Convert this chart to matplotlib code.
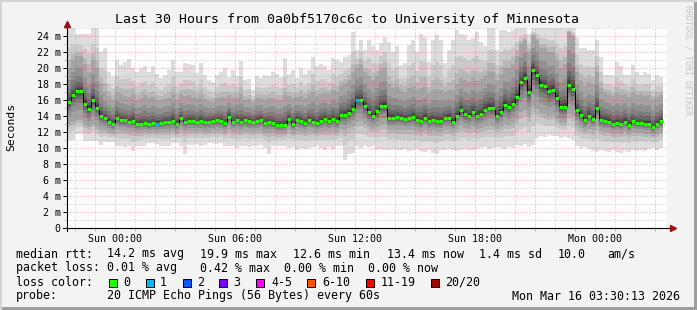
import matplotlib
matplotlib.use('Agg')
import matplotlib.pyplot as plt
import numpy as np
from matplotlib.patches import Rectangle

plt.rcParams['font.family'] = ['DejaVu Sans Mono']

W, H = 697, 310

# time axis: hours relative to Sun 00:00, one step = 12 minutes
T_START = -2.4
T_END = 27.6
STEP_H = 0.2

tick_hours = [0, 6, 12, 18, 24]
tick_labels = ['Sun 00:00', 'Sun 06:00', 'Sun 12:00', 'Sun 18:00', 'Mon 00:00']
ytick_values = [0, 2, 4, 6, 8, 10, 12, 14, 16, 18, 20, 22, 24]
ytick_labels = ['0', '2 m', '4 m', '6 m', '8 m', '10 m', '12 m', '14 m', '16 m',
                '18 m', '20 m', '22 m', '24 m']

# median rtt per step (ms)
median = [
    15.75, 16.6, 17.1, 17.1, 15.5, 14.9, 16.0, 15.0, 14.0, 13.75,
    13.3, 13.0, 13.7, 13.5, 13.5, 13.3, 13.4, 13.0, 13.05, 13.1,
    12.95, 13.1, 13.05, 13.1, 13.25, 13.2, 13.4, 13.0, 13.7, 13.25,
    13.4, 13.4, 13.3, 13.4, 13.25, 13.3, 13.4, 13.5, 13.4, 13.15,
    13.9, 13.3, 13.5, 13.25, 13.5, 13.35, 13.3, 13.4, 13.5, 13.1,
    13.25, 13.15, 12.9, 12.9, 12.9, 13.65, 13.0, 13.55, 13.35, 13.1,
    13.5, 13.3, 13.15, 13.4, 13.6, 13.4, 13.6, 13.4, 14.1, 14.1,
    14.4, 14.9, 16.0, 16.0, 15.2, 14.45, 14.0, 14.6, 15.2, 15.3,
    13.8, 13.8, 13.85, 13.8, 13.65, 13.7, 13.85, 13.55, 13.35, 13.8,
    13.4, 13.5, 13.4, 13.4, 13.75, 13.75, 13.3, 14.05, 14.7, 14.25,
    14.05, 14.5, 14.0, 14.3, 14.8, 15.05, 15.0, 14.0, 14.5, 15.4,
    15.1, 15.5, 16.4, 18.2, 18.8, 17.05, 19.8, 19.1, 17.9, 17.7,
    17.1, 17.3, 16.25, 15.1, 15.1, 17.9, 17.4, 14.75, 14.1, 13.45,
    14.0, 13.6, 15.0, 13.5, 13.4, 13.3, 13.0, 13.1, 13.0, 13.3,
    12.9, 13.35, 13.1, 13.1, 13.0, 13.05, 12.6, 13.05, 13.35,
]

# lost pings per step (out of 20)
loss = [0] * len(median)
loss[22] = 1
loss[72] = 1

# smoke: highest ping per step
smoke_hi = [
    25.0, 25.0, 24.3, 24.3, 24.3, 24.3, 25.0, 25.0, 22.0, 22.5,
    19.5, 18.9, 21.0, 20.4, 20.8, 21.1, 20.0, 19.5, 20.0, 20.2,
    19.5, 20.2, 19.25, 18.7, 19.1, 19.75, 21.0, 19.5, 19.5, 20.6,
    20.5, 20.4, 19.4, 20.6, 19.1, 18.5, 18.3, 19.1, 19.5, 20.0,
    18.9, 19.75, 19.0, 20.9, 18.5, 18.6, 17.25, 19.0, 18.7, 19.1,
    19.0, 19.5, 19.25, 18.9, 21.2, 19.3, 19.75, 18.8, 20.0, 19.3,
    19.75, 21.4, 20.2, 20.5, 20.25, 19.75, 21.2, 21.0, 20.8, 21.4,
    21.6, 24.5, 22.3, 23.5, 22.3, 23.5, 22.7, 22.3, 23.1, 23.9,
    23.3, 22.0, 22.7, 20.4, 20.6, 22.9, 23.5, 22.0, 24.3, 23.9,
    20.8, 23.5, 24.1, 23.5, 20.6, 22.3, 23.5, 24.75, 24.3, 24.1,
    23.5, 23.7, 24.5, 23.3, 22.7, 25.0, 25.0, 22.3, 24.75, 24.75,
    24.5, 24.75, 25.0, 25.0, 25.0, 24.3, 25.0, 25.0, 25.0, 25.0,
    25.0, 25.0, 25.0, 25.0, 25.0, 25.0, 25.0, 23.9, 22.5, 22.5,
    22.3, 22.3, 23.5, 21.4, 19.1, 19.1, 19.1, 20.8, 20.2, 19.1,
    19.1, 20.4, 19.5, 19.1, 19.5, 19.3, 18.5, 19.1, 18.9,
]

# smoke: lowest ping per step
smoke_lo = [
    11.0, 11.0, 11.8, 11.8, 10.9, 10.9, 10.9, 10.9, 10.4, 10.8,
    10.8, 10.8, 10.2, 10.2, 10.1, 10.3, 9.6, 10.2, 10.2, 10.3,
    10.6, 10.6, 10.5, 10.3, 10.25, 10.3, 10.6, 10.6, 10.2, 9.3,
    10.4, 10.4, 10.5, 10.3, 10.4, 10.6, 10.6, 10.5, 10.6, 10.3,
    10.2, 10.2, 10.0, 10.2, 10.3, 10.1, 10.3, 10.2, 10.4, 10.0,
    9.3, 10.2, 10.2, 10.3, 10.2, 10.0, 10.1, 9.8, 10.0, 9.9,
    10.0, 10.1, 10.2, 10.0, 9.8, 10.1, 9.9, 10.2, 10.2, 8.5,
    9.3, 9.4, 10.2, 10.0, 10.2, 10.1, 10.3, 9.8, 9.9, 9.7,
    9.8, 9.9, 9.7, 9.8, 9.9, 9.6, 9.8, 9.9, 9.6, 9.5,
    9.7, 9.4, 9.3, 9.8, 9.7, 9.9, 9.8, 9.6, 9.8, 9.9,
    9.7, 9.8, 9.9, 10.0, 10.1, 9.9, 10.0, 10.1, 10.0, 9.9,
    10.1, 10.0, 10.4, 10.3, 10.5, 10.1, 10.4, 11.3, 11.5, 11.4,
    11.6, 11.5, 11.5, 11.3, 11.4, 11.2, 11.0, 10.2, 10.0, 10.1,
    9.9, 9.6, 9.5, 9.7, 9.6, 9.5, 9.7, 9.5, 9.4, 9.6,
    9.5, 9.7, 9.6, 9.8, 9.6, 9.9, 10.0, 9.8, 10.0,
]

# smoke: 17th ping (upper edge of the mid grey)
smoke_hi3 = [
    20.0, 21.0, 21.5, 21.5, 20.5, 19.5, 21.0, 20.0, 18.0, 17.0,
    16.5, 16.0, 17.0, 16.8, 16.5, 16.4, 16.8, 16.0, 16.3, 16.6,
    16.2, 16.4, 16.0, 15.9, 16.1, 16.3, 16.8, 16.0, 16.7, 16.5,
    16.6, 16.4, 16.2, 16.6, 16.1, 15.9, 15.8, 16.2, 16.4, 16.3,
    16.6, 16.2, 16.3, 16.8, 16.0, 16.1, 15.7, 16.2, 16.3, 16.0,
    16.2, 16.3, 16.0, 16.0, 16.6, 16.5, 16.2, 16.4, 16.5, 16.2,
    16.6, 17.0, 16.5, 16.8, 16.9, 16.7, 17.2, 17.0, 17.8, 18.0,
    18.5, 19.5, 20.0, 20.5, 19.5, 19.0, 18.5, 19.0, 19.8, 20.0,
    18.0, 17.5, 17.6, 17.2, 17.0, 17.5, 17.8, 17.3, 17.5, 17.6,
    16.9, 17.3, 17.4, 17.2, 17.0, 17.3, 17.2, 18.0, 18.8, 18.5,
    18.3, 18.8, 18.4, 18.6, 19.0, 19.6, 19.5, 18.5, 19.2, 20.0,
    20.0, 20.5, 21.5, 23.0, 23.5, 22.0, 24.0, 23.5, 22.5, 22.5,
    22.0, 22.0, 21.0, 20.0, 20.5, 24.5, 24.0, 19.5, 18.5, 17.8,
    18.3, 18.0, 19.5, 17.5, 17.0, 16.8, 16.5, 16.9, 16.6, 16.8,
    16.4, 16.9, 16.6, 16.7, 16.5, 16.6, 16.0, 16.4, 16.6,
]

# smoke: 4th ping (lower edge of the mid grey)
smoke_lo3 = [
    13.0, 13.3, 13.5, 13.5, 12.9, 12.6, 13.0, 12.6, 12.3, 12.2,
    12.0, 11.9, 12.2, 12.1, 12.1, 12.0, 12.0, 11.9, 11.9, 12.0,
    11.9, 12.0, 11.9, 12.0, 12.0, 12.0, 12.1, 11.9, 12.2, 12.0,
    12.1, 12.1, 12.0, 12.1, 12.0, 12.0, 12.1, 12.1, 12.1, 11.9,
    12.3, 12.0, 12.1, 12.0, 12.1, 12.0, 12.0, 12.1, 12.1, 11.9,
    11.9, 11.9, 11.7, 11.7, 11.8, 12.2, 11.8, 12.1, 12.0, 11.9,
    12.1, 12.0, 11.9, 12.0, 12.1, 12.0, 12.1, 12.0, 12.4, 12.3,
    12.5, 12.8, 13.3, 13.4, 13.0, 12.6, 12.4, 12.6, 12.9, 13.0,
    12.3, 12.3, 12.3, 12.3, 12.2, 12.2, 12.3, 12.1, 12.0, 12.3,
    12.0, 12.1, 12.0, 12.0, 12.2, 12.2, 12.0, 12.4, 12.7, 12.5,
    12.4, 12.6, 12.4, 12.5, 12.7, 12.8, 12.8, 12.4, 12.6, 13.0,
    12.9, 13.1, 13.6, 14.5, 14.8, 14.0, 15.2, 14.9, 14.4, 14.2,
    14.0, 14.1, 13.6, 13.1, 13.1, 14.2, 14.0, 12.8, 12.5, 12.1,
    12.4, 12.2, 12.8, 12.1, 12.0, 12.0, 11.8, 11.9, 11.8, 12.0,
    11.7, 12.0, 11.9, 11.9, 11.8, 11.8, 11.5, 11.8, 12.0,
]

loss_colors = {0: '#26ff00', 1: '#00b8ff', 2: '#0059ff', 3: '#7e00ff',
               5: '#ff00ff', 10: '#ff5500', 19: '#ff0000', 20: '#a10000'}
loss_legend = [('0', '#26ff00'), ('1', '#00b8ff'), ('2', '#0059ff'), ('3', '#7e00ff'),
               ('4-5', '#ff00ff'), ('6-10', '#ff5500'), ('11-19', '#ff0000'),
               ('20/20', '#a10000')]
legend_x = [(109, 123), (146, 160), (183, 197), (219, 233), (256, 271),
            (307, 322), (366, 381), (431, 445)]


def loss_color(n):
    for k in sorted(loss_colors):
        if n <= k:
            return loss_colors[k]
    return loss_colors[20]


def fx(px):
    return px / W


def fy(py):
    return 1 - py / H


fig = plt.figure(figsize=(W / 100, H / 100), dpi=100, facecolor='#f3f3f3')

# 3d-ish frame
fig.patches.append(Rectangle((fx(694), 0), fx(3), 1, transform=fig.transFigure,
                             facecolor='#9e9e9e', edgecolor='none'))
fig.patches.append(Rectangle((0, 0), 1, 1 - fy(3), transform=fig.transFigure,
                             facecolor='#9e9e9e', edgecolor='none'))
fig.patches.append(Rectangle((0, fy(2)), 1, 1 - fy(2), transform=fig.transFigure,
                             facecolor='#d4d4d4', edgecolor='none'))
fig.patches.append(Rectangle((0, 0), fx(2), 1, transform=fig.transFigure,
                             facecolor='#d4d4d4', edgecolor='none'))

ax = fig.add_axes([fx(67), fy(228), fx(600), 200 / H])
ax.set_facecolor('white')
ax.set_xlim(T_START, T_END)
ax.set_ylim(0, 25)

n = len(median)
edges = T_START + STEP_H * np.arange(n + 1)
med = np.array(median)
lo = np.array(smoke_lo)
hi = np.array(smoke_hi)
lo3 = np.array(smoke_lo3)
hi3 = np.array(smoke_hi3)

# ten nested smoke bands, outer ones light, inner ones dark
greys = [221, 202, 183, 164, 145, 126, 107, 88, 69, 50]
outer_f = [0.0, 0.5, 0.8]
inner_f = [0.0, 0.35, 0.58, 0.73, 0.84, 0.91, 0.96]
bands = []
for f in outer_f:
    bands.append((lo + (lo3 - lo) * f, hi + (hi3 - hi) * f))
for f in inner_f:
    bands.append((lo3 + (med - lo3) * f, hi3 + (med - hi3) * f))
for (b_lo, b_hi), g in zip(bands, greys):
    c = '#%02x%02x%02x' % (g, g, g)
    ax.stairs(b_hi, edges, baseline=b_lo, fill=True, color=c, lw=0, zorder=1)

# median line
ax.stairs(med, edges, baseline=None, color='black', lw=0.72, zorder=3)
ax.hlines(med, edges[:-1], edges[1:], colors=[loss_color(v) for v in loss],
          lw=2.3, capstyle='butt', zorder=4)

# grid
ax.set_xticks(np.arange(0, 28, 3))
ax.set_xticks(np.arange(-2, 28, 1), minor=True)
ax.set_xticklabels([tick_labels[tick_hours.index(h)] if h in tick_hours else ''
                    for h in range(0, 28, 3)])
ax.set_yticks(ytick_values)
ax.set_yticklabels(ytick_labels)
ax.set_yticks(np.arange(1, 26, 2), minor=True)
ax.set_axisbelow(False)
ax.grid(which='major', color='#ff0000', alpha=0.38, lw=0.72, ls=(0, (1, 2)))
ax.grid(which='minor', color='#808080', alpha=0.45, lw=0.72, ls=(0, (1, 2)))
ax.tick_params(axis='x', which='major', length=2, width=0.72, color='#ff9a9a',
               labelsize=7.2, pad=2)
ax.tick_params(axis='x', which='minor', length=2, width=0.72, color='#c0c0c0')
ax.tick_params(axis='y', which='major', length=3, width=0.72, color='black',
               labelsize=7.2, pad=1.6)
ax.tick_params(axis='y', which='minor', length=2, width=0.72, color='#c0c0c0')

for s in ax.spines.values():
    s.set_visible(False)
ax.plot([0, 0], [-0.015, 1.02], transform=ax.transAxes, color='black', lw=0.8,
        clip_on=False, zorder=5)
ax.plot([-0.007, 1.008], [0, 0], transform=ax.transAxes, color='black', lw=0.8,
        clip_on=False, zorder=5)
ax.plot([0], [1.02], marker='^', ms=4, color='#a01010', transform=ax.transAxes,
        clip_on=False, zorder=6)
ax.plot([1.01], [0], marker='>', ms=4, color='#a01010', transform=ax.transAxes,
        clip_on=False, zorder=6)

# texts
fig.text(fx(347), fy(19), 'Last 30 Hours from 0a0bf5170c6c to University of Minnesota',
         ha='center', va='center', fontsize=9.5)
fig.text(fx(11), fy(127), 'Seconds', rotation=90, ha='center', va='center',
         fontsize=8.2)
fig.text(fx(688), fy(60), 'RRDTOOL / TOBI OETIKER', rotation=270, ha='center',
         va='center', fontsize=6, color='#c4c4c4')

LS = 8.4
rows = [
    (254, [(16, 'median rtt:'), (107, '14.2 ms avg'), (200, '19.9 ms max'),
           (293, '12.6 ms min'), (387, '13.4 ms now'), (479, '1.4 ms sd'),
           (558, '10.0'), (607, 'am/s')]),
    (268, [(16, 'packet loss:'), (107, '0.01 % avg'), (200, '0.42 % max'),
           (284, '0.00 % min'), (368, '0.00 % now')]),
    (282, [(16, 'loss color:')]),
    (296, [(16, 'probe:'), (107, '20 ICMP Echo Pings (56 Bytes) every 60s')]),
]
for y, items in rows:
    for x, s in items:
        fig.text(fx(x), fy(y), s, ha='left', va='center', fontsize=LS)

for (label, color), (bx, tx) in zip(loss_legend, legend_x):
    fig.patches.append(Rectangle((fx(bx), fy(286.5)), fx(8), 8 / H,
                                 transform=fig.transFigure, facecolor=color,
                                 edgecolor='black', lw=0.72))
    fig.text(fx(tx), fy(282), label, ha='left', va='center', fontsize=LS)

fig.text(fx(680), fy(296), 'Mon Mar 16 03:30:13 2026', ha='right', va='center',
         fontsize=LS)

fig.savefig('out.png', dpi=100, facecolor=fig.get_facecolor())
